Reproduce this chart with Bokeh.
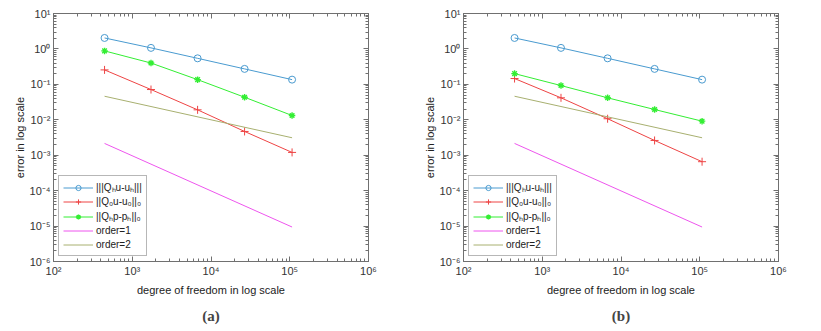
from bokeh.plotting import figure
from bokeh.layouts import row
from bokeh.models import (LogAxis, FixedTicker, CustomJSTickFormatter,
                          Title, Legend, LegendItem, Range1d)
from bokeh.embed import file_html
from bokeh.resources import INLINE

# ---------------- data ----------------
dof = [445, 1730, 6760, 26700, 107000]

energy_a = [2.04, 1.07, 0.543, 0.273, 0.136]
u0_a = [0.256, 0.0714, 0.0191, 0.00468, 0.0012]
p_a = [0.88, 0.40, 0.136, 0.0433, 0.0132]

energy_b = [2.04, 1.07, 0.543, 0.273, 0.136]
u0_b = [0.146, 0.0417, 0.0107, 0.00261, 0.000656]
p_b = [0.201, 0.0925, 0.0417, 0.0195, 0.00914]

ref_dof = [445, 107000]
order1 = [2.15e-3, 9.4e-6]
order2 = [4.62e-2, 3.11e-3]

legend_labels = ["|||Qₕu-uₕ|||", "||Q₀u-u₀||₀", "||Qₕp-pₕ||₀", "order=1", "order=2"]
x_ticks = [1e2, 1e3, 1e4, 1e5, 1e6]
y_ticks = [1e-6, 1e-5, 1e-4, 1e-3, 1e-2, 1e-1, 1e0, 1e1]
panel_labels = ["(a)", "(b)"]

BLUE = "#4a9bd0"
RED = "#ee4444"
GREEN = "#33ee33"
MAGENTA = "#ee55ee"
OLIVE = "#a8b070"
FONT = "Liberation Sans"

SUP_JS = """
const sup = {"-":"\u207b","0":"\u2070","1":"\u00b9","2":"\u00b2","3":"\u00b3","4":"\u2074",
             "5":"\u2075","6":"\u2076","7":"\u2077","8":"\u2078","9":"\u2079"};
const e = Math.round(Math.log10(tick));
return "10" + String(e).split("").map(c => sup[c]).join("");
"""


def style_axis(ax, ticks, show_labels):
    ax.ticker = FixedTicker(ticks=ticks,
                            minor_ticks=[m * t for t in ticks[:-1] for m in range(2, 10)])
    ax.major_tick_in = 5
    ax.major_tick_out = 0
    ax.minor_tick_in = 3
    ax.minor_tick_out = 0
    ax.axis_line_color = "#707070"
    ax.major_tick_line_color = "#707070"
    ax.minor_tick_line_color = "#707070"
    ax.major_label_text_font = FONT
    ax.major_label_text_font_size = "11px"
    ax.major_label_text_color = "#333333"
    ax.axis_label_text_font = FONT
    ax.axis_label_text_font_size = "11px"
    ax.axis_label_text_font_style = "normal"
    ax.axis_label_text_color = "#222222"
    if show_labels:
        ax.formatter = CustomJSTickFormatter(code=SUP_JS)
        ax.major_label_standoff = 3
        ax.axis_label_standoff = 1
    else:
        ax.formatter = CustomJSTickFormatter(code="return '';")
        ax.major_label_standoff = 0
        ax.major_label_text_font_size = "0px"


def make_panel(energy, u0, pp, label, left_border, right_border):
    p = figure(x_axis_type="log", y_axis_type="log",
               x_range=Range1d(1e2, 1e6), y_range=Range1d(1e-6, 1e1),
               frame_width=315, frame_height=248,
               min_border_left=left_border, min_border_right=right_border,
               min_border_top=13, min_border_bottom=5,
               output_backend="svg", toolbar_location=None, title=None)
    p.background_fill_color = "white"
    p.border_fill_color = "white"
    p.xgrid.visible = False
    p.ygrid.visible = False
    p.outline_line_color = "#707070"

    p.xaxis.axis_label = "degree of freedom in log scale"
    p.yaxis.axis_label = "error in log scale"
    style_axis(p.xaxis[0], x_ticks, True)
    style_axis(p.yaxis[0], y_ticks, True)
    p.xaxis[0].axis_label_standoff = 4

    top = LogAxis()
    rgt = LogAxis()
    style_axis(top, x_ticks, False)
    style_axis(rgt, y_ticks, False)
    p.add_layout(top, "above")
    p.add_layout(rgt, "right")

    l1 = p.line(dof, energy, line_color=BLUE, line_width=1)
    m1 = p.scatter(dof, energy, marker="circle", size=7, fill_color=None,
                   line_color=BLUE, line_width=1)
    l2 = p.line(dof, u0, line_color=RED, line_width=1)
    m2 = p.scatter(dof, u0, marker="cross", size=8, line_color=RED, line_width=1)
    l3 = p.line(dof, pp, line_color=GREEN, line_width=1)
    m3 = p.scatter(dof, pp, marker="asterisk", size=6.5, line_color=GREEN, line_width=1.4)
    l4 = p.line(ref_dof, order1, line_color=MAGENTA, line_width=1)
    l5 = p.line(ref_dof, order2, line_color=OLIVE, line_width=1)

    legend = Legend(items=[
        LegendItem(label=legend_labels[0], renderers=[l1, m1]),
        LegendItem(label=legend_labels[1], renderers=[l2, m2]),
        LegendItem(label=legend_labels[2], renderers=[l3, m3]),
        LegendItem(label=legend_labels[3], renderers=[l4]),
        LegendItem(label=legend_labels[4], renderers=[l5]),
    ], location="bottom_left")
    legend.label_text_font = FONT
    legend.label_text_font_size = "10px"
    legend.label_text_color = "#222222"
    legend.glyph_width = 30
    legend.glyph_height = 13
    legend.label_height = 13
    legend.spacing = 1
    legend.padding = 4
    legend.margin = 5
    legend.label_standoff = 3
    legend.border_line_color = "#707070"
    legend.background_fill_alpha = 1
    p.add_layout(legend, "center")

    t = Title(text=label, align="center", text_font="Liberation Serif",
              text_font_size="15px", text_font_style="bold", offset=-8,
              standoff=14)
    p.add_layout(t, "below")
    return p


p1 = make_panel(energy_a, u0_a, p_a, panel_labels[0], 53, 42)
p2 = make_panel(energy_b, u0_b, p_b, panel_labels[1], 53, 35)

layout = row(p1, p2)
open("out.html", "w").write(file_html(layout, INLINE))
